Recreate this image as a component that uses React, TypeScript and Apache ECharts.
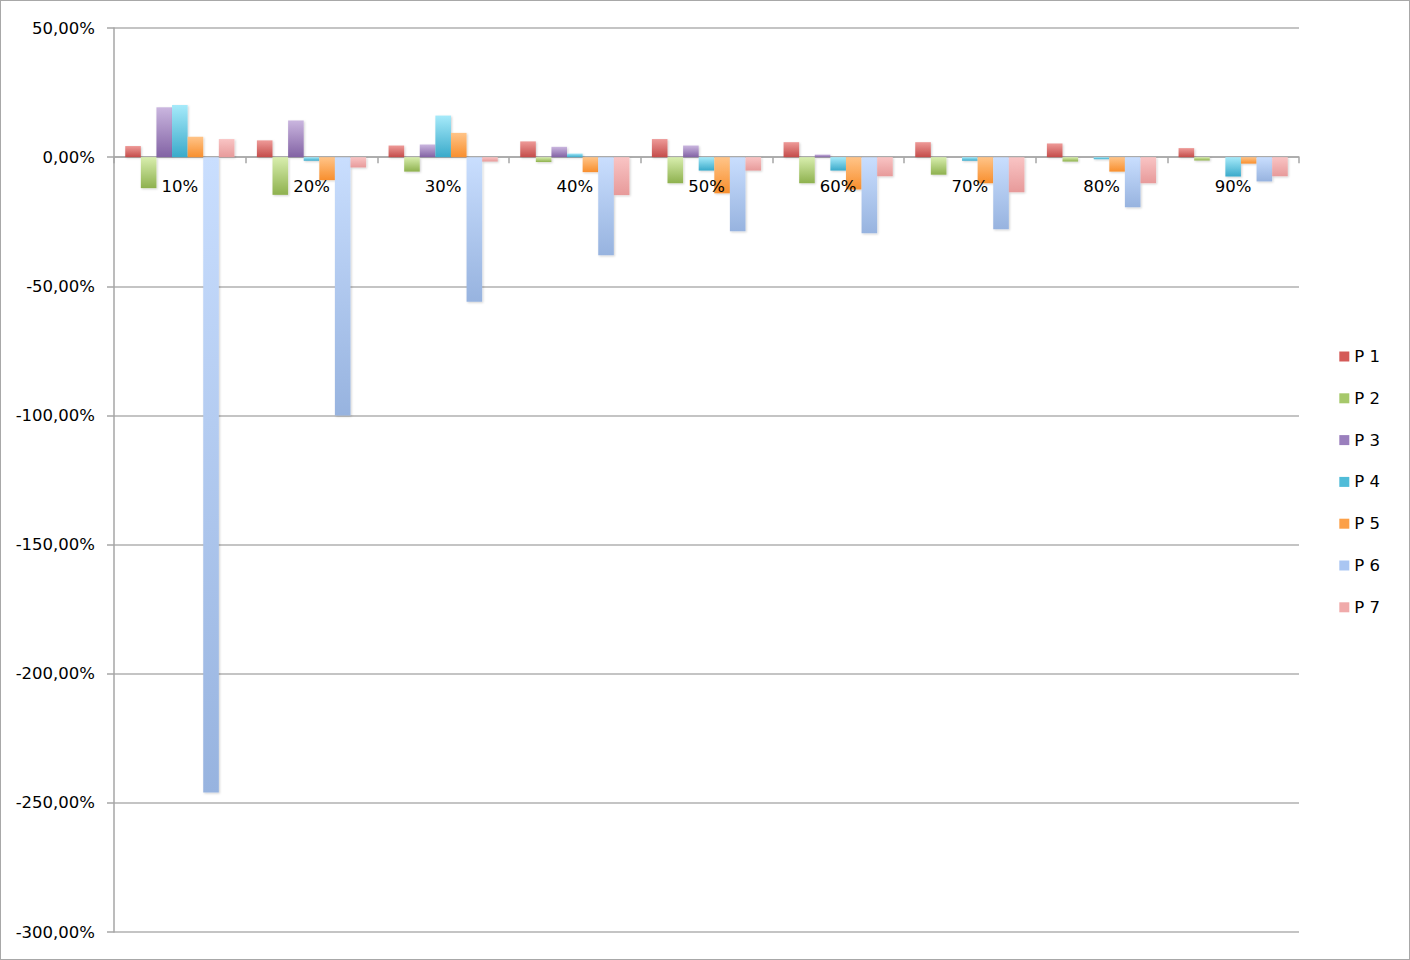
import React, { useEffect, useRef } from "react";
import * as echarts from "echarts";

const categories = ["10%", "20%", "30%", "40%", "50%", "60%", "70%", "80%", "90%"];
const seriesNames = ["P 1", "P 2", "P 3", "P 4", "P 5", "P 6", "P 7"];

const p1 = [4.3, 6.5, 4.5, 6.1, 7.0, 5.8, 5.8, 5.3, 3.5];
const p2 = [-12.0, -14.6, -5.6, -1.9, -10.1, -10.1, -6.8, -1.7, -1.3];
const p3 = [19.3, 14.2, 4.9, 4.0, 4.5, 1.0, 0, 0, 0];
const p4 = [20.2, -1.4, 16.1, 1.4, -5.2, -5.2, -1.4, -0.8, -7.5];
const p5 = [7.9, -8.9, 9.4, -5.8, -14.0, -12.5, -10.1, -5.6, -2.5];
const p6 = [-246, -100, -56, -38, -28.7, -29.5, -27.9, -19.4, -9.4];
const p7 = [7.0, -4.0, -1.7, -14.7, -5.2, -7.4, -13.6, -10.1, -7.4];
const seriesValues = [p1, p2, p3, p4, p5, p6, p7];
const baseline = categories.map(() => 0);

const yTicks = { min: -300, max: 50, interval: 50 };

const lightColors = ["#ee9a98", "#d8eeae", "#cab6df", "#a6eafa", "#ffc488", "#c9defe", "#f9c4c4"];
const darkColors = ["#c44c4a", "#8eb14e", "#8262a4", "#3aaaca", "#f88f2e", "#97b3df", "#e79a9a"];
const legendColors = ["#d45a58", "#a6c86a", "#9a7fbd", "#50bcd8", "#fca048", "#aac6f2", "#f0aaaa"];

const FONT = "DejaVu Sans";
const FS = 16.5;

export default function App() {
  const ref = useRef<HTMLDivElement>(null);
  useEffect(() => {
    if (!ref.current) return;
    const chart = echarts.init(ref.current, null, { renderer: "svg" });
    chart.setOption({
      animation: false,
      backgroundColor: "#ffffff",
      textStyle: { fontFamily: FONT },
      grid: { left: 114, right: 111, top: 28, bottom: 28, containLabel: false },
      legend: {
        orient: "vertical",
        right: 25,
        top: 343,
        itemWidth: 10,
        itemHeight: 10,
        itemGap: 24.8,
        icon: "rect",
        textStyle: { fontFamily: FONT, fontSize: FS, color: "#000" },
        data: seriesNames.map((n, i) => ({ name: n, itemStyle: { color: legendColors[i] } })),
      },
      xAxis: {
        type: "category",
        data: categories,
        axisLine: { onZero: true, lineStyle: { color: "#a6a6a6", width: 1.5 } },
        axisTick: { show: true, length: 6, lineStyle: { color: "#a6a6a6", width: 1.5 } },
        axisLabel: { show: false },
        splitLine: { show: false },
      },
      yAxis: {
        type: "value",
        min: yTicks.min,
        max: yTicks.max,
        interval: yTicks.interval,
        axisLine: { show: true, lineStyle: { color: "#a6a6a6", width: 1.5 } },
        axisTick: { show: true, length: 7, lineStyle: { color: "#a6a6a6", width: 1.5 } },
        axisLabel: {
          color: "#000",
          fontSize: FS,
          fontFamily: FONT,
          margin: 19,
          formatter: (v: number) => v.toFixed(2).replace(".", ",") + "%",
        },
        splitLine: { show: true, lineStyle: { color: "#b0b0b0", width: 1.5 } },
      },
      series: [
        ...seriesNames.map((name, i) => ({
          name,
          type: "bar",
          data: seriesValues[i],
          barWidth: 15.6,
          barGap: "0%",
          itemStyle: {
            color: new echarts.graphic.LinearGradient(0, 0, 0, 1, [
              { offset: 0, color: lightColors[i] },
              { offset: 1, color: darkColors[i] },
            ]),
            shadowColor: "rgba(0,0,0,0.18)",
            shadowBlur: 2,
            shadowOffsetX: 1,
            shadowOffsetY: 1,
          },
        })),
        {
          name: "categoryLabels",
          type: "scatter",
          data: baseline,
          symbolSize: 0,
          silent: true,
          z: 10,
          itemStyle: { opacity: 1 },
          label: {
            show: true,
            position: "bottom",
            distance: 21,
            formatter: "{b}",
            color: "#000",
            opacity: 1,
            fontSize: FS,
            fontFamily: FONT,
          },
        },
      ],
    });
    return () => chart.dispose();
  }, []);
  return (
    <div style={{ position: "absolute", left: 0, top: 0, width: 1410, height: 960 }}>
      <div ref={ref} style={{ width: 1410, height: 960 }} />
      <div
        style={{
          position: "absolute",
          left: 0,
          top: 0,
          width: 1410,
          height: 960,
          boxSizing: "border-box",
          border: "1.5px solid #a8a8a8",
          pointerEvents: "none",
        }}
      />
    </div>
  );
}
